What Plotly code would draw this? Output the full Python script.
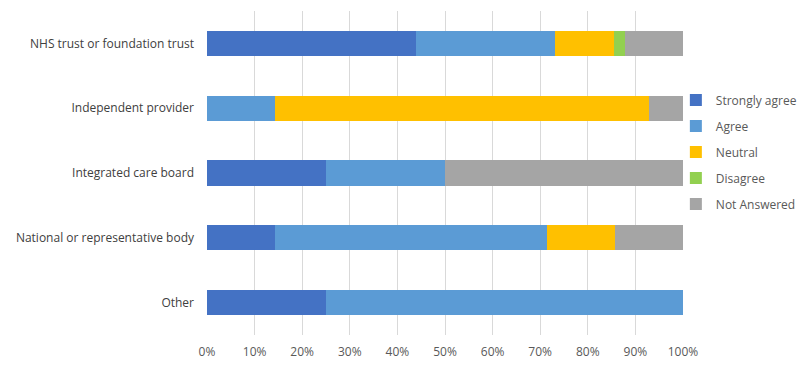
import plotly.graph_objects as go

categories = ["NHS trust or foundation trust", "Independent provider", "Integrated care board",
              "National or representative body", "Other"]
series_names = ["Strongly agree", "Agree", "Neutral", "Disagree", "Not Answered"]
strongly_agree = [43.9, 0, 25.0, 14.3, 25.0]
agree = [29.3, 14.3, 25.0, 57.1, 75.0]
neutral = [12.2, 78.6, 0, 14.3, 0]
disagree = [2.4, 0, 0, 0, 0]
not_answered = [12.2, 7.1, 50.0, 14.3, 0]
colors = ["#4472C4", "#5B9BD5", "#FFC000", "#92D050", "#A5A5A5"]
tick_vals = [0, 10, 20, 30, 40, 50, 60, 70, 80, 90, 100]
tick_text = ["0%", "10%", "20%", "30%", "40%", "50%", "60%", "70%", "80%", "90%", "100%"]

values = [strongly_agree, agree, neutral, disagree, not_answered]

fig = go.Figure()
for name, vals, col in zip(series_names, values, colors):
    fig.add_trace(go.Bar(y=categories, x=vals, name=name, orientation="h",
                         legendgroup=name,
                         marker=dict(color=col, line=dict(width=0))))

fig.update_layout(
    barmode="stack",
    bargap=0.61,
    width=809, height=373,
    margin=dict(l=207, r=126, t=11, b=38, autoexpand=False),
    plot_bgcolor="white", paper_bgcolor="white",
    font=dict(family="Open Sans", size=12, color="#595959"),
    legend=dict(x=0.985, y=0.565, yanchor="middle", xanchor="left",
                bgcolor="rgba(0,0,0,0)",
                font=dict(size=12, color="#595959"), traceorder="grouped",
                itemwidth=30, tracegroupgap=7),
    showlegend=True,
)
fig.update_xaxes(range=[0, 100], tickvals=tick_vals, ticktext=tick_text,
                 showgrid=True, gridcolor="#D9D9D9", gridwidth=1,
                 zeroline=False, showline=False, ticks="", automargin=False,
                 ticklabelstandoff=8,
                 tickfont=dict(size=12, color="#595959"))
fig.update_yaxes(autorange="reversed", showgrid=False, ticks="", showline=False,
                 automargin=False, ticklabelstandoff=12,
                 tickfont=dict(size=12, color="#404040"))

fig.write_html("out.html", config={"displayModeBar": False},
               post_script="document.body.style.margin='0';document.body.style.overflow='hidden';")
